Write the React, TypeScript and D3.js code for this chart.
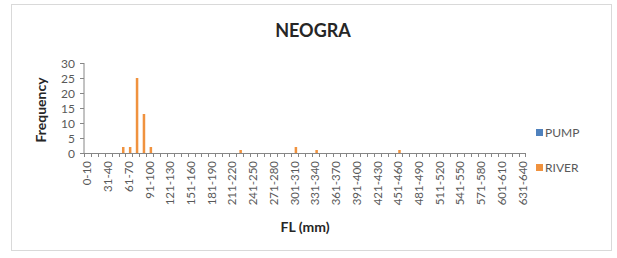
import React from "react";
import * as d3 from "d3";

const categories: string[] = Array.from({ length: 64 }, (_, i) =>
  i === 0 ? "0-10" : `${i * 10 + 1}-${i * 10 + 10}`
);
const seriesNames = ["PUMP", "RIVER"];
const pumpValues: number[] = new Array(64).fill(0);
const riverNonZero: [string, number][] = [
  ["51-60", 2],
  ["61-70", 2],
  ["71-80", 25],
  ["81-90", 13],
  ["91-100", 2],
  ["221-230", 1],
  ["301-310", 2],
  ["331-340", 1],
  ["451-460", 1],
];
const riverValues: number[] = categories.map((c) => {
  const f = riverNonZero.find((d) => d[0] === c);
  return f ? f[1] : 0;
});
const yTicks = [0, 5, 10, 15, 20, 25, 30];
const colors = ["#4F81BD", "#F0923E"];

export default function App() {
  const W = 617, H = 258;
  const left = 84, right = 526, top = 63, bottom = 153;
  const x = d3.scaleBand<string>().domain(categories).range([left, right]).paddingInner(0).paddingOuter(0);
  const bw = x.bandwidth();
  const inner = d3.scaleBand<string>().domain(seriesNames).range([0, bw]).paddingOuter(0.375).paddingInner(0);
  const y = d3.scaleLinear().domain([0, 30]).range([bottom, top]);
  const font = "Lato, 'Open Sans', sans-serif";
  const series = [pumpValues, riverValues];
  return (
    <svg width={W} height={H} style={{ position: "absolute", left: 0, top: 0, background: "#fff" }} fontFamily={font}>
      <rect x={11.5} y={4.5} width={600} height={246} fill="#fff" stroke="#d9d9d9" />
      <text x={313} y={37} textAnchor="middle" fontSize={18} fontWeight="bold" fill="#262626">NEOGRA</text>
      {series.map((vals, si) =>
        vals.map((v, i) =>
          v > 0 ? (
            <rect key={`${si}-${i}`} x={(x(categories[i]) as number) + (inner(seriesNames[si]) as number)}
              y={y(v)} width={inner.bandwidth()} height={y(0) - y(v)} fill={colors[si]} />
          ) : null
        )
      )}
      <line x1={left} x2={left} y1={top} y2={bottom} stroke="#868686" />
      <line x1={left - 4} x2={right} y1={bottom + 0.5} y2={bottom + 0.5} stroke="#868686" />
      {yTicks.map((t) => (
        <g key={t}>
          <line x1={left - 4} x2={left} y1={Math.round(y(t)) + 0.5} y2={Math.round(y(t)) + 0.5} stroke="#868686" />
          <text x={left - 9} y={y(t) + 4.5} textAnchor="end" fontSize={12} fill="#595959">{t}</text>
        </g>
      ))}
      {categories.map((c) => (
        <line key={c} x1={Math.round(x(c) as number) + 0.5} x2={Math.round(x(c) as number) + 0.5}
          y1={bottom} y2={bottom + 4} stroke="#868686" />
      ))}
      <line x1={right - 0.5} x2={right - 0.5} y1={bottom} y2={bottom + 4} stroke="#868686" />
      {categories.map((c, i) =>
        i % 3 === 0 ? (
          <text key={c} transform={`translate(${(x(c) as number) + bw / 2 + 4},${bottom + 8}) rotate(-90)`}
            textAnchor="end" fontSize={11.5} fill="#595959">{c}</text>
        ) : null
      )}
      <text transform={`translate(46,${(top + bottom) / 2 + 2}) rotate(-90)`} textAnchor="middle" fontSize={14} fontWeight="bold" fill="#262626">Frequency</text>
      <text x={305} y={232} textAnchor="middle" fontSize={14} fontWeight="bold" fill="#262626">FL (mm)</text>
      {seriesNames.map((s, i) => (
        <g key={s} transform={`translate(536,${129 + i * 35})`}>
          <rect x={0} y={0} width={7} height={7} fill={colors[i]} />
          <text x={9} y={8} fontSize={12} fill="#595959">{s}</text>
        </g>
      ))}
    </svg>
  );
}
